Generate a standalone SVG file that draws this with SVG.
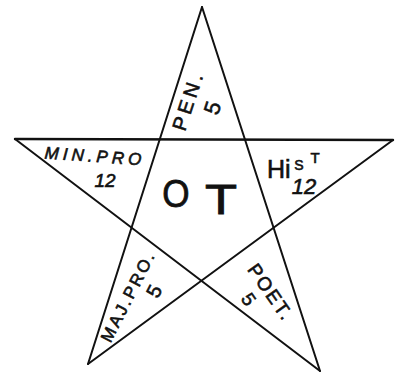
<svg xmlns="http://www.w3.org/2000/svg" width="398" height="374" viewBox="0 0 398 374">
<style>
.ln{stroke:#111;stroke-width:2;fill:none;stroke-linecap:round}
.t{font-family:"Liberation Sans",Arial,sans-serif;fill:#111;stroke:#111;stroke-width:0.6;text-anchor:middle}
</style>
<rect width="398" height="374" fill="#fff"/>
<g id="connectors">
<line class="ln" x1="202" y1="7" x2="88" y2="364"/>
<line class="ln" x1="202" y1="7" x2="320" y2="371"/>
<line class="ln" x1="15" y1="139" x2="393" y2="140" style="stroke-width:2.4"/>
<line class="ln" x1="15" y1="139" x2="320" y2="371"/>
<line class="ln" x1="393" y1="140" x2="88" y2="364"/>
</g>
<g id="pen">
<text class="t" transform="translate(188,100) rotate(-72)" y="7" font-size="20" letter-spacing="4">PEN.</text>
<text class="t" transform="translate(213,108) rotate(-72)" y="7" font-size="22">5</text>
</g>
<g id="minpro">
<text class="t" transform="translate(95,156) rotate(4)" y="6" font-size="17" font-style="italic" letter-spacing="4">MIN.PRO</text>
<text class="t" transform="translate(105,180)" y="7" font-size="19" font-style="italic">12</text>
</g>
<g id="ot">
<text class="t" transform="translate(176,207) scale(0.9,1)" font-size="39" style="stroke-width:0.8">O</text>
<text class="t" transform="translate(221,214) scale(1.25,1)" font-size="42" style="stroke-width:0.8">T</text>
</g>
<g id="hist">
<text class="t" x="267" y="178" font-size="25" style="text-anchor:start">Hi</text>
<text class="t" x="299" y="170" font-size="14">S</text>
<text class="t" x="315" y="163" font-size="15">T</text>
<text class="t" x="304" y="194" font-size="22" font-style="italic">12</text>
</g>
<g id="majpro">
<text class="t" transform="translate(128,296) rotate(-63)" y="6" font-size="17" letter-spacing="2.5">MAJ.PRO.</text>
<text class="t" transform="translate(154,291) rotate(-63)" y="7" font-size="20">5</text>
</g>
<g id="poet">
<text class="t" transform="translate(271,292) rotate(55)" y="7" font-size="19" letter-spacing="2">POET.</text>
<text class="t" transform="translate(249,299) rotate(55)" y="7" font-size="19">5</text>
</g>
</svg>
